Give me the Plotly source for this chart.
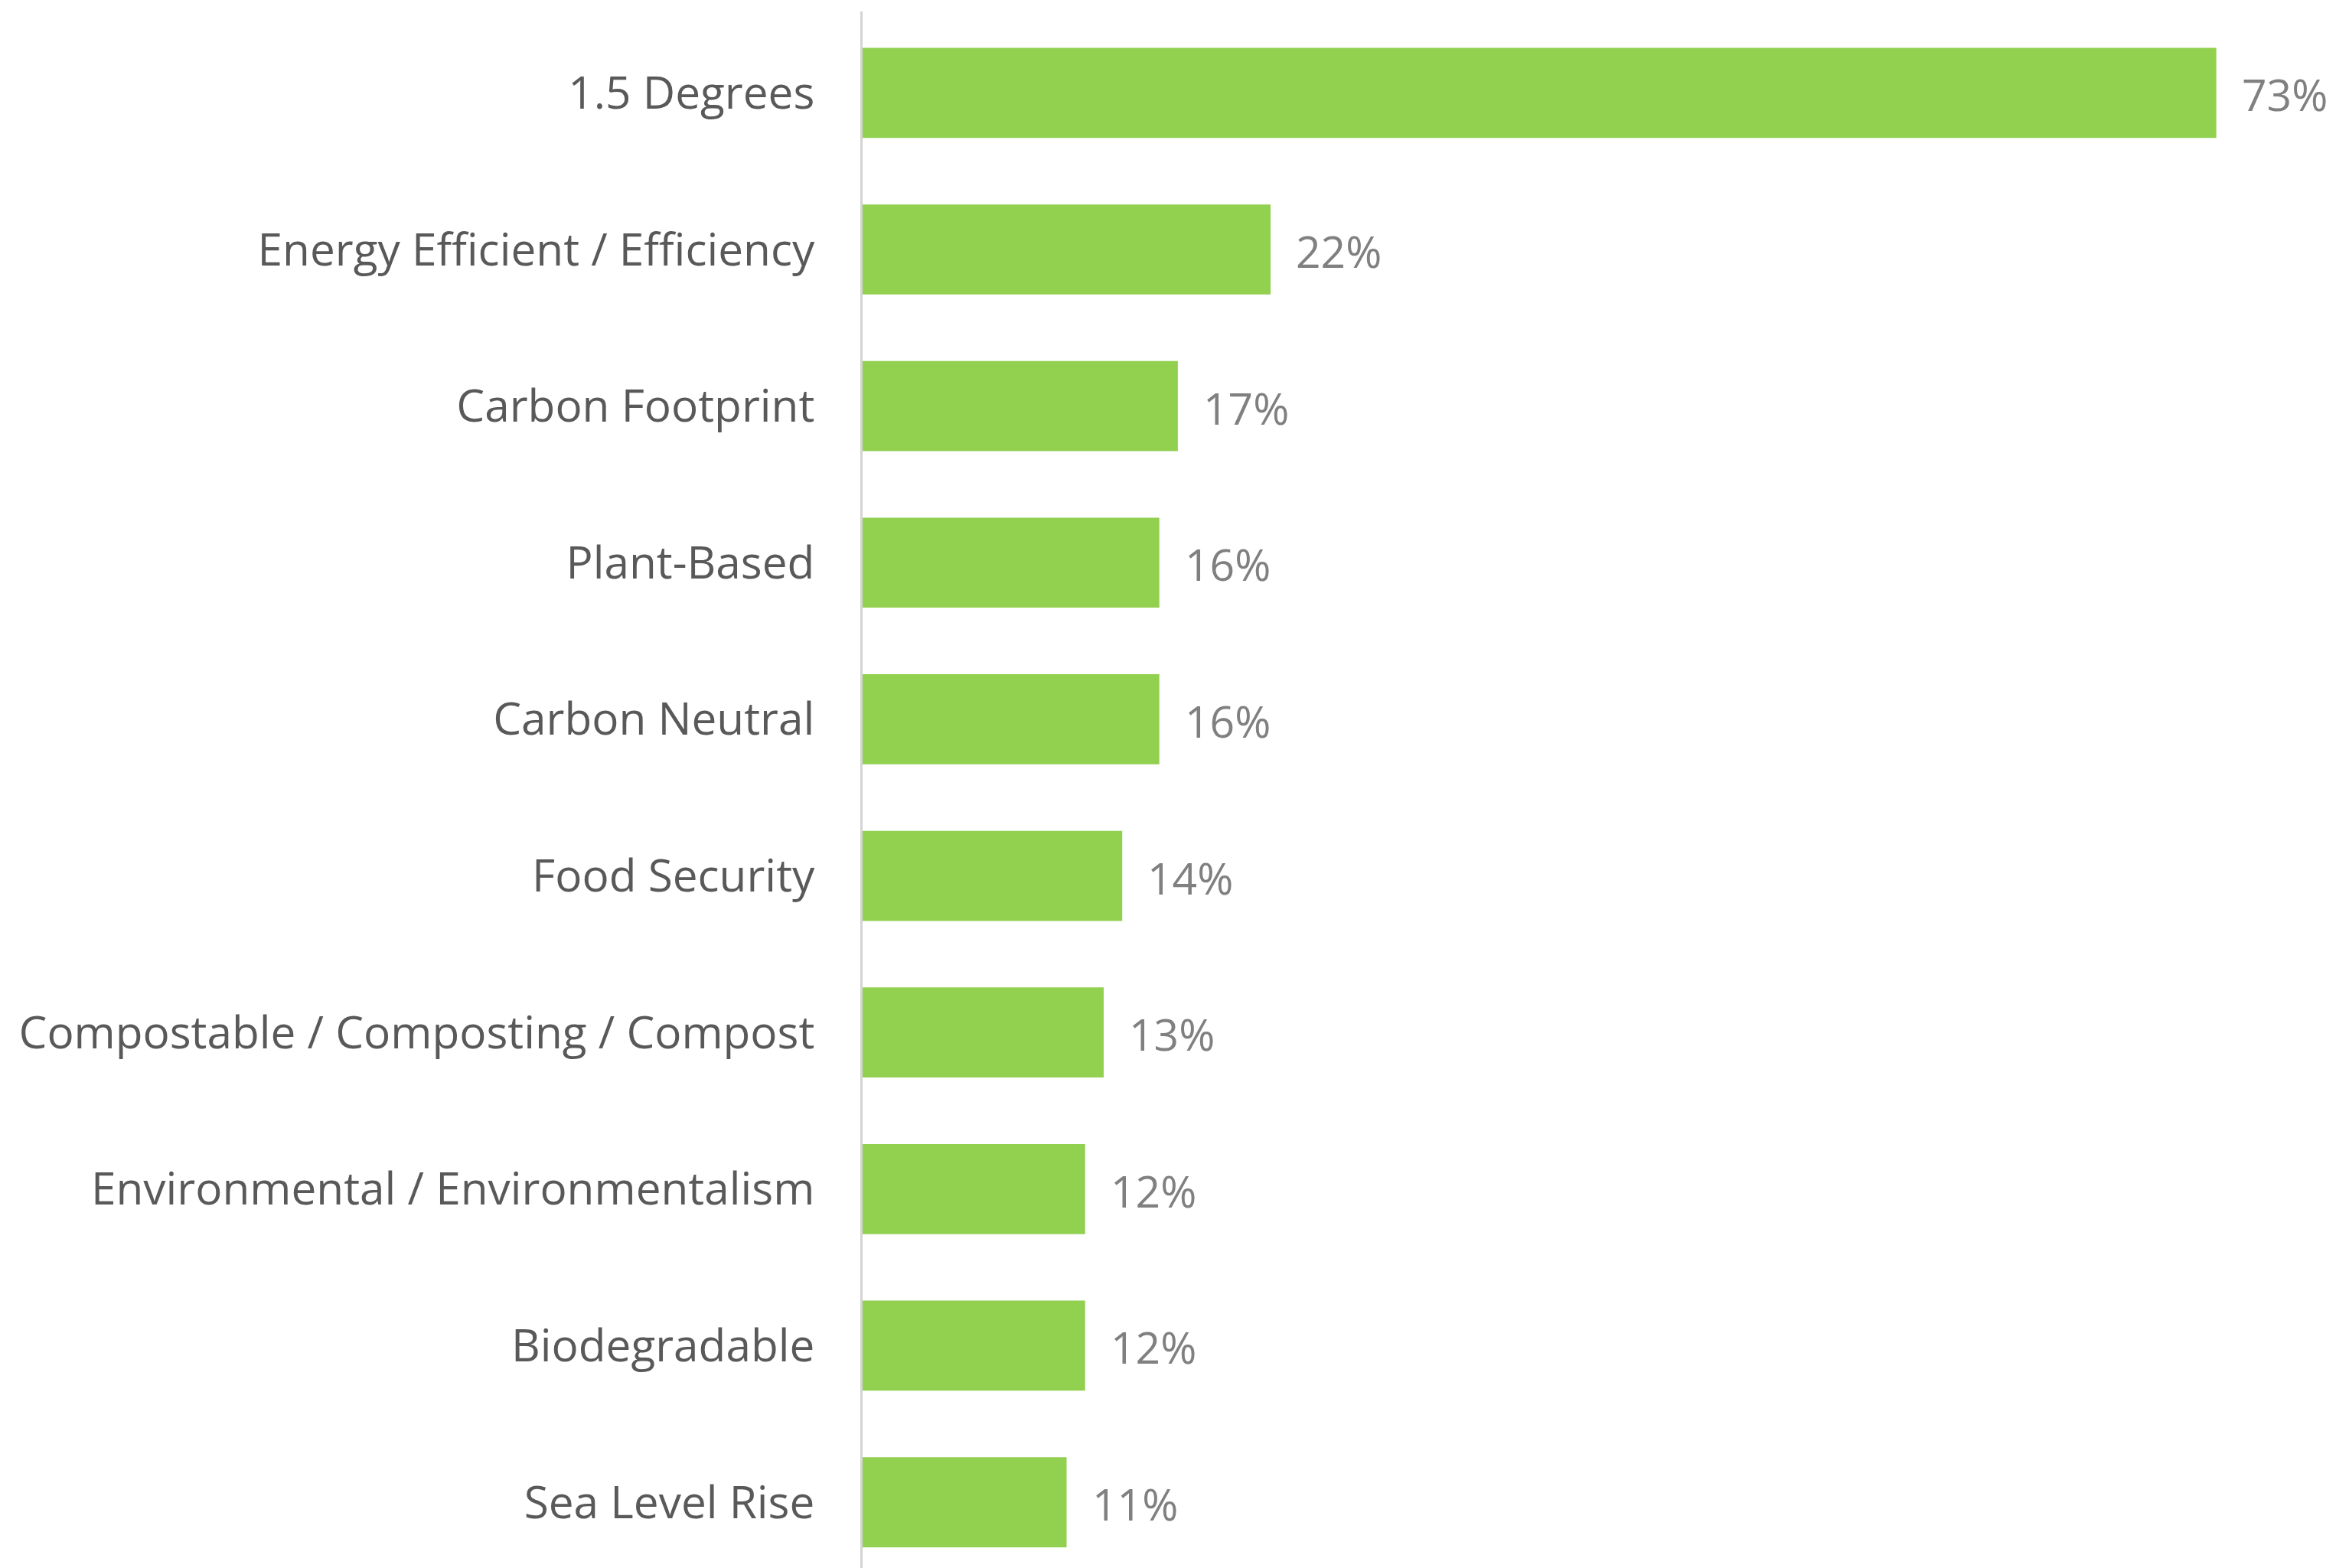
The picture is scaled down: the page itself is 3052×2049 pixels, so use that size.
import plotly.graph_objects as go

# Share of mentions per sustainability term (%)
terms = [
    "1.5 Degrees",
    "Energy Efficient / Efficiency",
    "Carbon Footprint",
    "Plant-Based",
    "Carbon Neutral",
    "Food Security",
    "Compostable / Composting / Compost",
    "Environmental / Environmentalism",
    "Biodegradable",
    "Sea Level Rise",
]
shares = [73, 22, 17, 16, 16, 14, 13, 12, 12, 11]

BAR_GREEN = "#92D050"
LABEL_GREY = "#595959"
VALUE_GREY = "#808080"
FONT = "Open Sans"

fig = go.Figure(
    go.Bar(
        x=shares,
        y=terms,
        orientation="h",
        width=0.575,
        marker=dict(color=BAR_GREEN, line=dict(width=0)),
        hoverinfo="skip",
    )
)

for term, v in zip(terms, shares):
    fig.add_annotation(
        x=v, y=term, text=f"{v}%", showarrow=False,
        xanchor="left", yanchor="middle", xshift=31, yshift=-2,
        font=dict(family=FONT, size=57, color=VALUE_GREY),
    )

fig.update_layout(
    width=3052, height=2049,
    margin=dict(l=1127, r=11, t=15, b=0),
    paper_bgcolor="white", plot_bgcolor="white",
    showlegend=False,
    xaxis=dict(
        range=[0, 79], showgrid=False, zeroline=False,
        showticklabels=False, showline=False, fixedrange=True,
    ),
    yaxis=dict(
        type="category",
        categoryorder="array", categoryarray=terms,
        range=[9.42, -0.52],
        showgrid=False, zeroline=False,
        showline=True, linecolor="#d4d4d4", linewidth=3,
        ticks="", ticklabelstandoff=48,
        tickfont=dict(family=FONT, size=58.5, color=LABEL_GREY),
        fixedrange=True,
    ),
)

fig.write_html("out.html")
